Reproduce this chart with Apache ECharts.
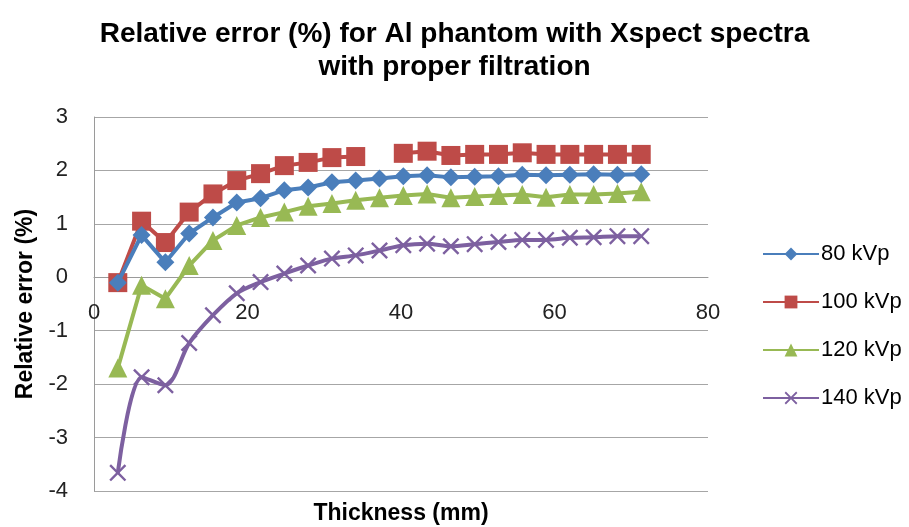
<!DOCTYPE html>
<html>
<head>
<meta charset="utf-8">
<script src="https://cdn.jsdelivr.net/npm/echarts@6/dist/echarts.min.js"></script>
<style>
html,body{margin:0;padding:0;background:#fff;}
#chart{width:909px;height:527px;}
</style>
</head>
<body>
<div id="chart"></div>
<script>
var thickness = [3.1, 6.2, 9.3, 12.4, 15.5, 18.6, 21.7, 24.8, 27.9, 31.0, 34.1, 37.2, 40.3, 43.4, 46.5, 49.6, 52.7, 55.8, 58.9, 62.0, 65.1, 68.2, 71.3];
var kvp80  = [-0.10, 0.79, 0.28, 0.82, 1.12, 1.40, 1.48, 1.63, 1.68, 1.78, 1.81, 1.85, 1.89, 1.91, 1.87, 1.88, 1.89, 1.92, 1.91, 1.92, 1.93, 1.92, 1.93];
var kvp100 = [-0.10, 1.05, 0.65, 1.22, 1.56, 1.81, 1.94, 2.09, 2.15, 2.24, 2.26, null, 2.32, 2.36, 2.28, 2.30, 2.30, 2.33, 2.30, 2.30, 2.30, 2.30, 2.30];
var kvp120 = [-1.70, -0.15, -0.40, 0.22, 0.69, 0.97, 1.12, 1.22, 1.33, 1.38, 1.44, 1.49, 1.53, 1.56, 1.49, 1.51, 1.53, 1.55, 1.50, 1.55, 1.55, 1.57, 1.60];
var kvp140 = [-3.66, -1.87, -2.02, -1.23, -0.71, -0.30, -0.09, 0.07, 0.22, 0.35, 0.41, 0.50, 0.60, 0.63, 0.58, 0.62, 0.66, 0.70, 0.70, 0.74, 0.75, 0.77, 0.77];
var seriesNames = ['80 kVp', '100 kVp', '120 kVp', '140 kVp'];
var titleLines = ['Relative error (%) for Al phantom with Xspect spectra', 'with proper filtration'];
var xTitle = 'Thickness (mm)';
var yTitle = 'Relative error (%)';
var yMin = -4, yMax = 3;

function pairs(ys) {
  return thickness.map(function (x, i) { return [x, ys[i]]; });
}
var crossPath = 'path://M0,2 L2,0 L10,8 L18,0 L20,2 L12,10 L20,18 L18,20 L10,12 L2,20 L0,18 L8,10 Z';
var FONT = '"Liberation Sans", Arial, sans-serif';
var gridTop = 117, gridBottom = 36, H = 527;
var gridHeight = H - gridTop - gridBottom;
// move the x axis from the bottom edge up to the value 0
var xAxisOffset = -gridHeight * (0 - yMin) / (yMax - yMin);

var chart = echarts.init(document.getElementById('chart'), null, {renderer: 'canvas'});
chart.setOption({
  backgroundColor: '#ffffff',
  animation: false,
  title: {
    text: titleLines.join('\n'),
    left: 'center',
    top: 13,
    textStyle: {fontFamily: FONT, fontSize: 28, fontWeight: 'bold', color: '#000', lineHeight: 33}
  },
  legend: {
    orient: 'vertical',
    left: 757,
    top: 238,
    itemWidth: 56,
    itemHeight: 16,
    itemGap: 26,
    data: seriesNames,
    textStyle: {fontFamily: FONT, fontSize: 22, color: '#000', padding: [0, 0, 0, -3]}
  },
  grid: {left: 94, right: 201, top: gridTop, bottom: gridBottom, containLabel: false, outerBoundsMode: 'none'},
  xAxis: {
    type: 'value',
    min: 0, max: 80, interval: 20,
    position: 'bottom',
    offset: xAxisOffset,
    name: xTitle,
    nameLocation: 'middle',
    nameGap: 225,
    nameTextStyle: {fontFamily: FONT, fontSize: 23, fontWeight: 'bold', color: '#000'},
    axisLine: {show: true, onZero: false, lineStyle: {color: '#9a9a9a', width: 1}},
    axisTick: {show: false},
    axisLabel: {margin: 25, fontFamily: FONT, fontSize: 22, color: '#222'},
    splitLine: {show: false}
  },
  yAxis: {
    type: 'value',
    min: yMin, max: yMax, interval: 1,
    name: yTitle,
    nameLocation: 'middle',
    nameGap: 50,
    nameRotate: 90,
    nameTextStyle: {fontFamily: FONT, fontSize: 23, fontWeight: 'bold', color: '#000'},
    axisLine: {show: true, onZero: false, lineStyle: {color: '#9a9a9a', width: 1}},
    axisTick: {show: false},
    axisLabel: {margin: 26, fontFamily: FONT, fontSize: 22, color: '#222'},
    splitLine: {show: true, lineStyle: {color: '#a6a6a6', width: 1}}
  },
  series: [
    {
      name: seriesNames[0], type: 'line', data: pairs(kvp80),
      symbol: 'diamond', symbolSize: 18,
      itemStyle: {color: '#4a7ebb'}, lineStyle: {color: '#4a7ebb', width: 4}, z: 4
    },
    {
      name: seriesNames[1], type: 'line', data: pairs(kvp100), connectNulls: false,
      symbol: 'rect', symbolSize: 19,
      itemStyle: {color: '#be4b48'}, lineStyle: {color: '#be4b48', width: 4}, z: 3
    },
    {
      name: seriesNames[2], type: 'line', data: pairs(kvp120),
      symbol: 'triangle', symbolSize: 19,
      itemStyle: {color: '#98b954'}, lineStyle: {color: '#98b954', width: 4}, z: 2
    },
    {
      name: seriesNames[3], type: 'line', data: pairs(kvp140), smooth: 0.3,
      symbol: crossPath, symbolSize: 17,
      itemStyle: {color: '#7d60a0'}, lineStyle: {color: '#7d60a0', width: 4}, z: 1
    }
  ]
});
</script>
</body>
</html>
